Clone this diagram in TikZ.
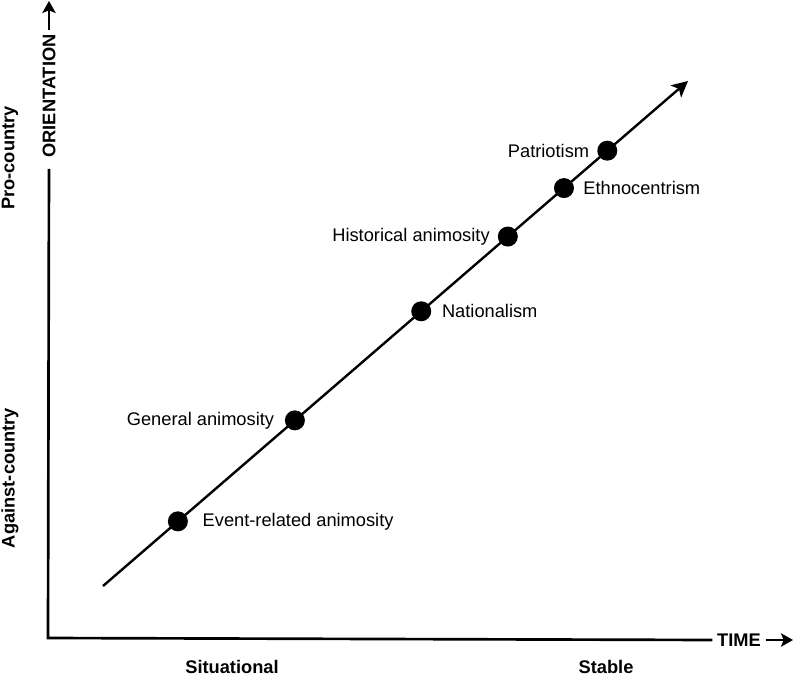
\documentclass[tikz,border=0pt]{standalone}
\usepackage{fontspec}
\setmainfont{Liberation Sans}
\usetikzlibrary{positioning, arrows.meta, calc}

\begin{document}
\begin{tikzpicture}[
    x=0.75pt, y=-0.75pt,    % 1単位 = 参照画像の1ピクセル（下向きが正）
    >=Stealth,
    font=\fontsize{13.7}{16}\selectfont,
    axis/.style={line width=2pt},
    axtip/.style={-{Stealth[length=9pt, width=10pt, inset=2pt]}},
    trend/.style={line width=1.8pt, -{Stealth[length=12pt, width=12pt, inset=3pt]}},
    dot/.style={circle, fill=black, inner sep=0pt, minimum size=15pt},
    lbl/.style={inner sep=0pt},
    axlbl/.style={font=\fontsize{13.7}{16}\selectfont\bfseries},
    node distance=7pt
]
    \useasboundingbox (0,0) rectangle (794,679);

    % --- 1. 座標軸の描画 ---
    \coordinate (origin) at (48,638);
    \node [axlbl] (time) at (739,640) {TIME};
    \node [axlbl, rotate=90] (orient) at (49,96) {ORIENTATION};
    \coordinate (time_tip) at (793,640);
    \coordinate (orient_tip) at (49,1);

    \draw [axis, shorten <=5pt] (orient.west) -- (origin) -- (time.west);
    \draw [axis, axtip] (time.east) -- (time_tip);
    \draw [axis, axtip] (orient.east) -- (orient_tip);

    % 軸のラベル
    \node [axlbl, rotate=90] (pro) at (10,158) {Pro-country};
    \node [axlbl, rotate=90] (against) at (10,478) {Against-country};
    \node [axlbl] (situational) at (232,667) {Situational};
    \node [axlbl] (stable) at (606,667) {Stable};

    % --- 2. 対角線と点 ---
    \coordinate (start) at (103,586);
    \coordinate (tip) at (688,81);
    \draw [trend] (start) -- (tip)
        node [dot, pos=0.128] (event) {}
        node [dot, pos=0.328] (general) {}
        node [dot, pos=0.544] (nation) {}
        node [dot, pos=0.692] (hist) {}
        node [dot, pos=0.788] (ethno) {}
        node [dot, pos=0.862] (patriot) {};

    % --- 3. 点のラベル ---
    \node [lbl, right=10pt of event] (event_lbl) {Event-related animosity};
    \node [lbl, left=7pt of general] (general_lbl) {General animosity};
    \node [lbl, right=7pt of nation] (nation_lbl) {Nationalism};
    \node [lbl, left=5pt of hist] (hist_lbl) {Historical animosity};
    \node [lbl, right=6pt of ethno] (ethno_lbl) {Ethnocentrism};
    \node [lbl, left=5pt of patriot] (patriot_lbl) {Patriotism};

\end{tikzpicture}
\end{document}
